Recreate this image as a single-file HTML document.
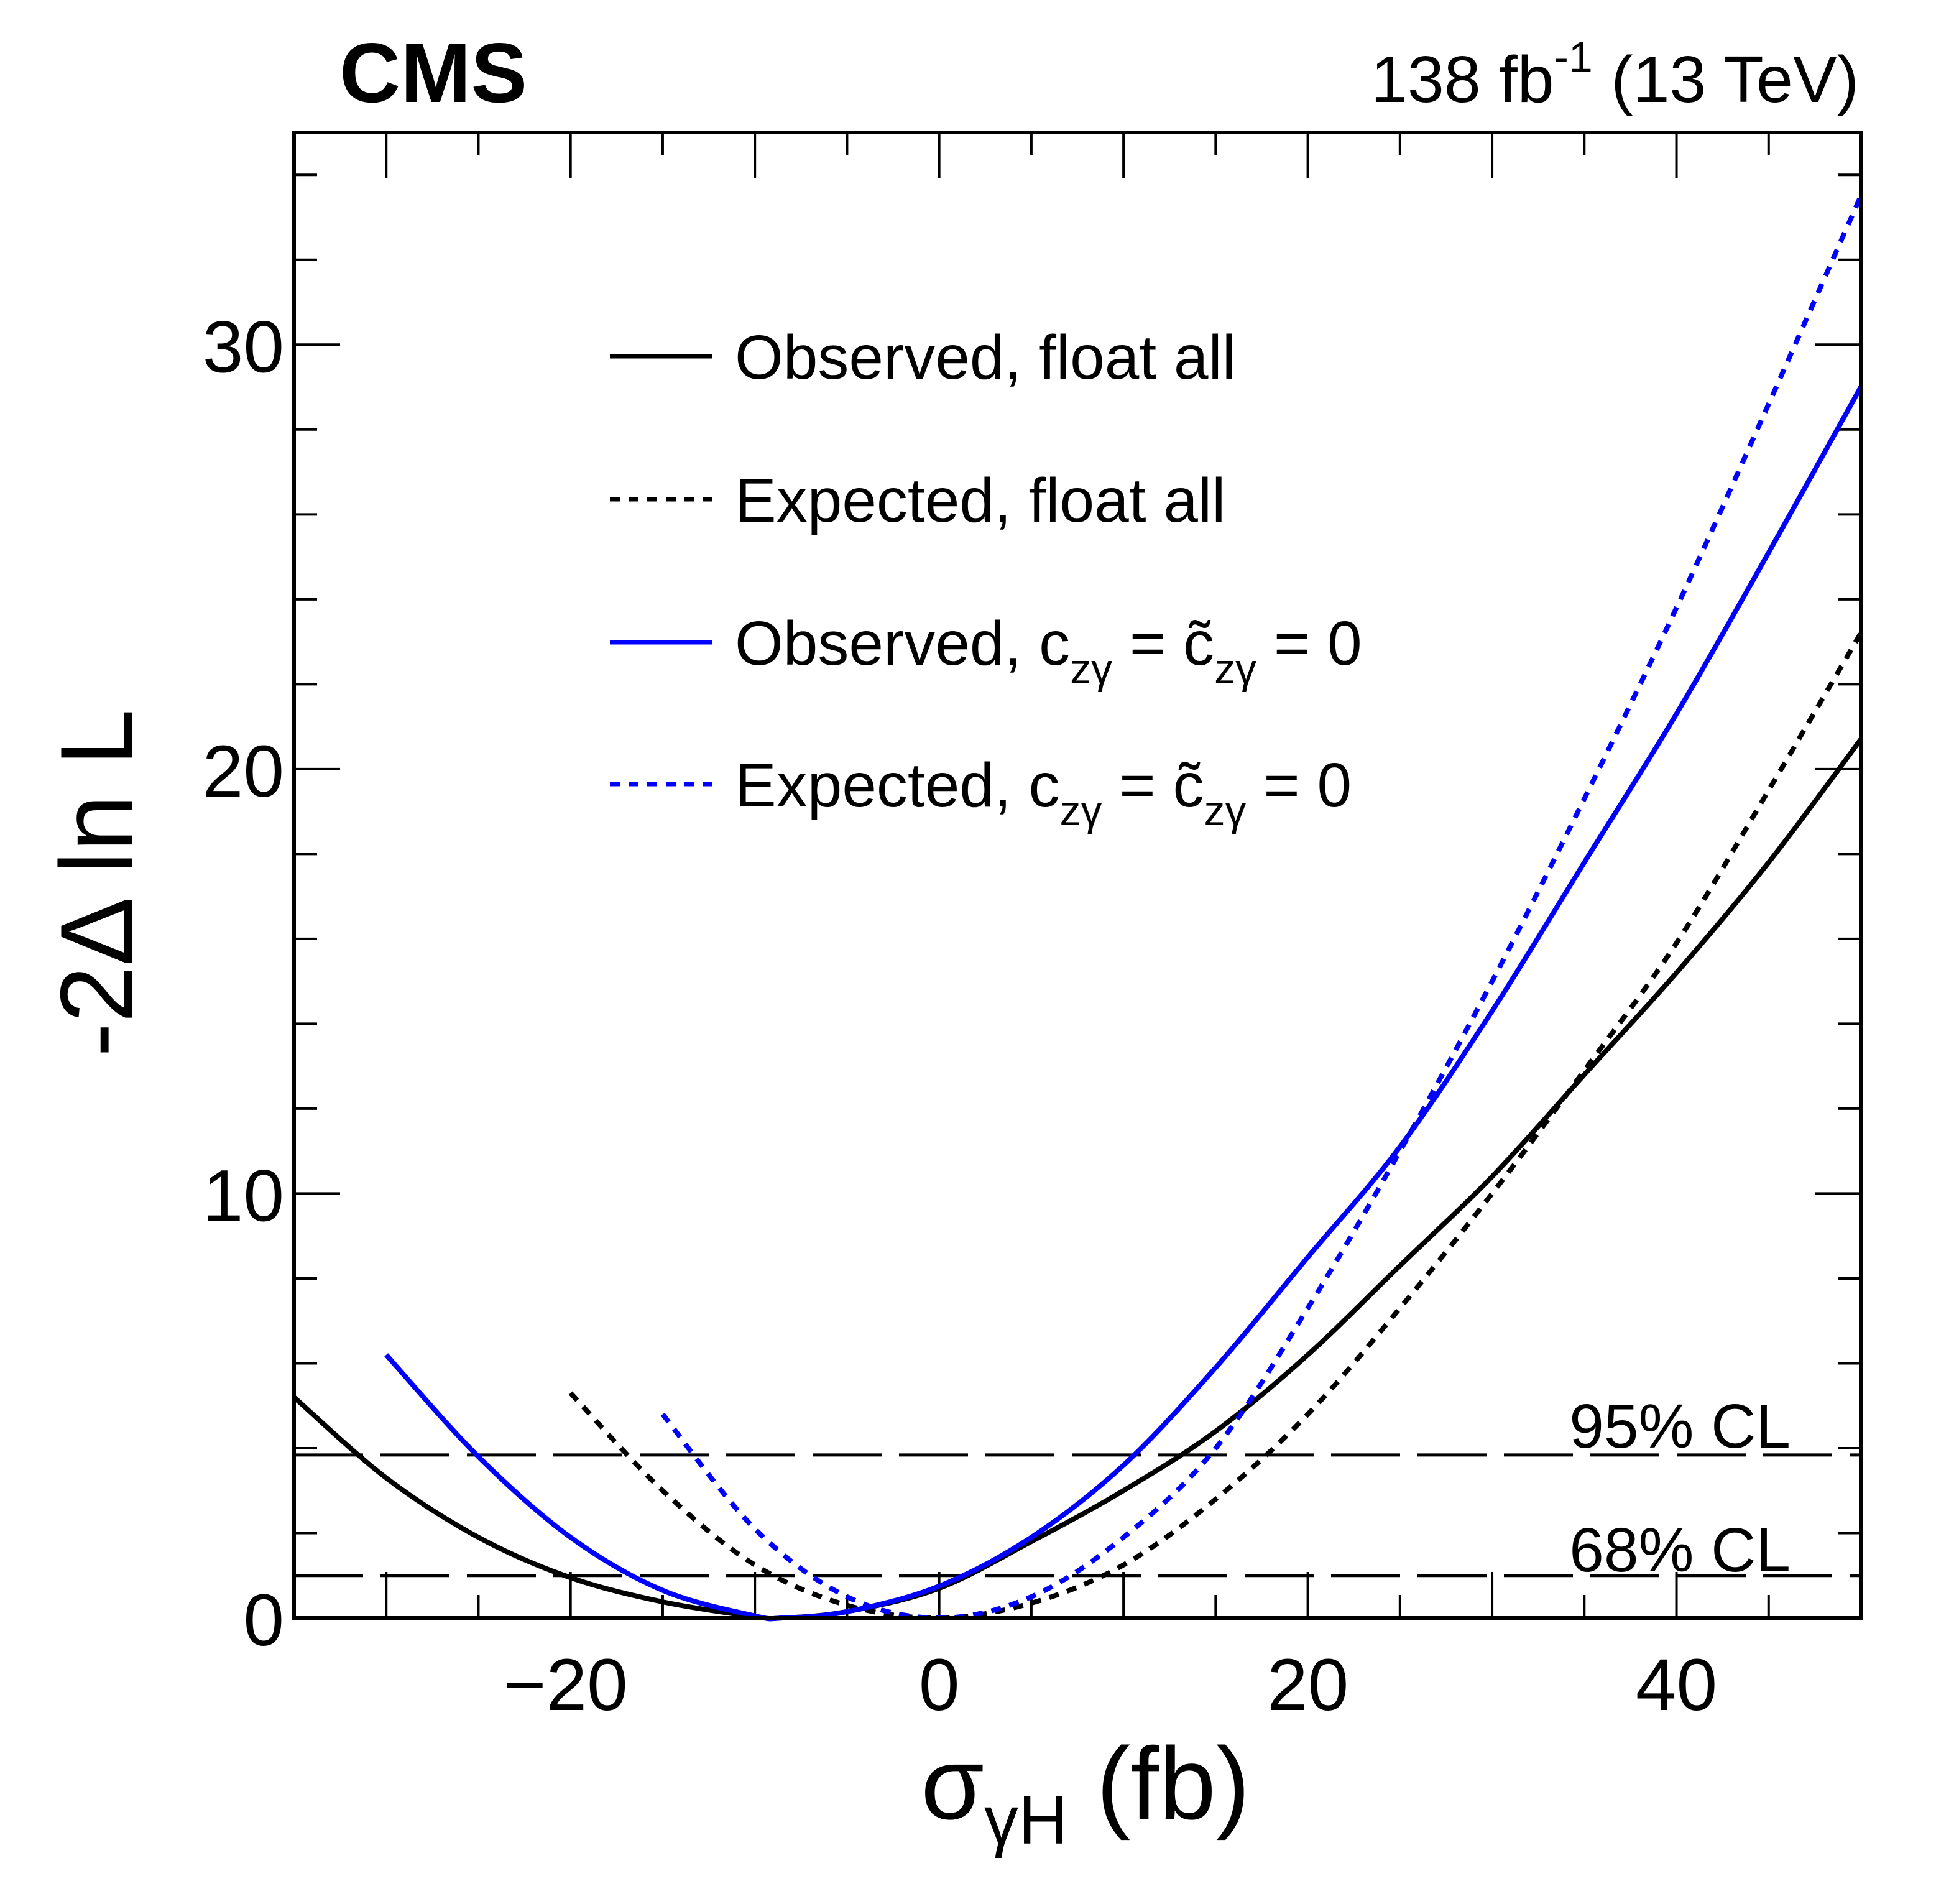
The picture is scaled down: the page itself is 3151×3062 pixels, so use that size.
<!DOCTYPE html>
<html><head><meta charset="utf-8"><style>
html,body{margin:0;padding:0;background:#fff;}
svg{display:block;font-family:"Liberation Sans",Arial,sans-serif;}
</style></head><body>
<svg id="chart" width="3151" height="3062" viewBox="0 0 3151 3062" xmlns="http://www.w3.org/2000/svg">
<rect width="3151" height="3062" fill="#fff"/>
<text x="546" y="164" font-size="136" font-weight="bold">CMS</text>
<text x="2990" y="164" font-size="106" text-anchor="end">138 fb<tspan font-size="70" dy="-48">-1</tspan><tspan dy="48"> (13 TeV)</tspan></text>
<g id="ticks"></g>
<g id="cl"></g>
<g id="curves"></g>
<rect x="473" y="213" width="2520" height="2389" fill="none" stroke="#000" stroke-width="6"/>
<g id="xlabels" font-size="118" text-anchor="middle"></g>
<g id="ylabels" font-size="118" text-anchor="end"></g>
<text x="2880" y="2328" font-size="100" text-anchor="end">95% CL</text>
<text x="2880" y="2527" font-size="100" text-anchor="end">68% CL</text>
<text transform="translate(212,1420) rotate(-90)" font-size="165" text-anchor="middle">-2Δ ln L</text>
<text x="1746" y="2925" font-size="165" text-anchor="middle">σ<tspan font-size="110" dy="40">γH</tspan><tspan dy="-40"> (fb)</tspan></text>
<g font-size="100">
  <line x1="981" y1="573" x2="1146" y2="573" stroke="#000" stroke-width="7"/>
  <text x="1182" y="609">Observed, float all</text>
  <line x1="981" y1="803" x2="1146" y2="803" stroke="#000" stroke-width="7" stroke-dasharray="16 14"/>
  <text x="1182" y="839">Expected, float all</text>
  <line x1="981" y1="1033" x2="1146" y2="1033" stroke="#0000ff" stroke-width="7"/>
  <text x="1182" y="1069">Observed, c<tspan font-size="68" dy="30">zγ</tspan><tspan dy="-30"> = c̃</tspan><tspan font-size="68" dy="30">zγ</tspan><tspan dy="-30"> = 0</tspan></text>
  <line x1="981" y1="1261" x2="1146" y2="1261" stroke="#0000ff" stroke-width="7" stroke-dasharray="16 14"/>
  <text x="1182" y="1297">Expected, c<tspan font-size="68" dy="30">zγ</tspan><tspan dy="-30"> = c̃</tspan><tspan font-size="68" dy="30">zγ</tspan><tspan dy="-30"> = 0</tspan></text>
</g>
</svg>
<script>
const xTickLabels = [-20, 0, 20, 40];
const yTickLabels = [0, 10, 20, 30];
const clLevels = [3.84, 1.0];
const obsFloatX = [-35,-30,-25,-20,-15,-10,-8.5,-5,0,5,10,15,20,25,30,35,40,45,50];
const obsFloatY = [5.2,3.3,1.9,0.95,0.38,0.03,0,0.15,0.7,1.8,3.0,4.4,6.2,8.3,10.4,12.8,15.2,17.8,20.7];
const expFloatX = [-20,-15,-10,-5,0,5,10,15,20,25,30,35,40,45,50];
const expFloatY = [5.3,3.0,1.25,0.3,0,0.35,1.25,2.8,4.8,7.3,10.0,12.9,15.9,19.5,23.2];
const obsFixedX = [-30,-25,-20,-15,-10,-8.5,-5,0,5,10,15,20,25,30,35,40,45,50];
const obsFixedY = [6.2,3.8,1.9,0.65,0.05,0,0.15,0.75,1.9,3.6,5.9,8.5,11.1,14.3,17.8,21.3,25.1,29.0];
const expFixedX = [-15,-10,-5,0,5,10,15,20,25,30,35,40,45,50];
const expFixedY = [4.8,2.1,0.5,0,0.5,1.9,4.0,7.3,11.0,15.0,19.3,23.8,28.6,33.5];

const X0=473, X1=2993, Y0=2602, Y1=213, XMIN=-35, XMAX=50, YMIN=0, YMAX=35;
const sx = v => X0 + (v-XMIN)/(XMAX-XMIN)*(X1-X0);
const sy = v => Y0 - (v-YMIN)/(YMAX-YMIN)*(Y0-Y1);
const NS='http://www.w3.org/2000/svg';
function mk(tag, attrs, parent){const e=document.createElementNS(NS,tag);for(const k in attrs)e.setAttribute(k,attrs[k]);parent.appendChild(e);return e;}

const ticks=document.getElementById('ticks');
for(let v=-35; v<=50; v+=5){
  const major = v%10===0;
  const L = major?74:37;
  const x=sx(v);
  const t1=mk('line',{x1:x,y1:Y0,x2:x,y2:Y0-L,stroke:'#000','stroke-width':4},ticks);
  
  
  const t2=mk('line',{x1:x,y1:Y1,x2:x,y2:Y1+L,stroke:'#000','stroke-width':4},ticks);
  
  
}
for(let v=0; v<=34; v+=2){
  const major = v%10===0;
  const L = major?74:37;
  const y=sy(v);
  const t1=mk('line',{x1:X0,y1:y,x2:X0+L,y2:y,stroke:'#000','stroke-width':4},ticks);
  
  
  const t2=mk('line',{x1:X1,y1:y,x2:X1-L,y2:y,stroke:'#000','stroke-width':4},ticks);
  
  
}
const xl=document.getElementById('xlabels');
xTickLabels.forEach(v=>{
  const t=mk('text',{x:sx(v)+(v<0?-8:0),y:2750},xl);
  
  
  t.textContent = v<0 ? '\u2212'+Math.abs(v) : String(v);
});
const yl=document.getElementById('ylabels');
yTickLabels.forEach(v=>{
  const t=mk('text',{x:457,y:sy(v)+44},yl);
  
  
  t.textContent=String(v);
});
const cl=document.getElementById('cl');
clLevels.forEach(v=>{
  const l=mk('line',{x1:X0,y1:sy(v),x2:X1,y2:sy(v),stroke:'#000','stroke-width':5,'stroke-dasharray':'111 28'},cl);
  
  
});
function smoothPath(xs,ys){
  const P=xs.map((x,i)=>[sx(x),sy(ys[i])]);
  let d='M'+P[0][0].toFixed(1)+','+P[0][1].toFixed(1);
  for(let i=0;i<P.length-1;i++){
    const p0=P[Math.max(0,i-1)],p1=P[i],p2=P[i+1],p3=P[Math.min(P.length-1,i+2)];
    const c1=[p1[0]+(p2[0]-p0[0])/6,p1[1]+(p2[1]-p0[1])/6];
    const c2=[p2[0]-(p3[0]-p1[0])/6,p2[1]-(p3[1]-p1[1])/6];
    d+=' C'+c1.map(v=>v.toFixed(1)).join(',')+' '+c2.map(v=>v.toFixed(1)).join(',')+' '+p2.map(v=>v.toFixed(1)).join(',');
  }
  return d;
}
const cg=document.getElementById('curves');
const c1=mk('path',{d:smoothPath(obsFloatX,obsFloatY),fill:'none',stroke:'#000','stroke-width':8},cg);


const c2=mk('path',{d:smoothPath(expFloatX,expFloatY),fill:'none',stroke:'#000','stroke-width':8,'stroke-dasharray':'16 14'},cg);


const c3=mk('path',{d:smoothPath(obsFixedX,obsFixedY),fill:'none',stroke:'#0000ff','stroke-width':8},cg);


const c4=mk('path',{d:smoothPath(expFixedX,expFixedY),fill:'none',stroke:'#0000ff','stroke-width':8,'stroke-dasharray':'16 14'},cg);


</script>
</body></html>
